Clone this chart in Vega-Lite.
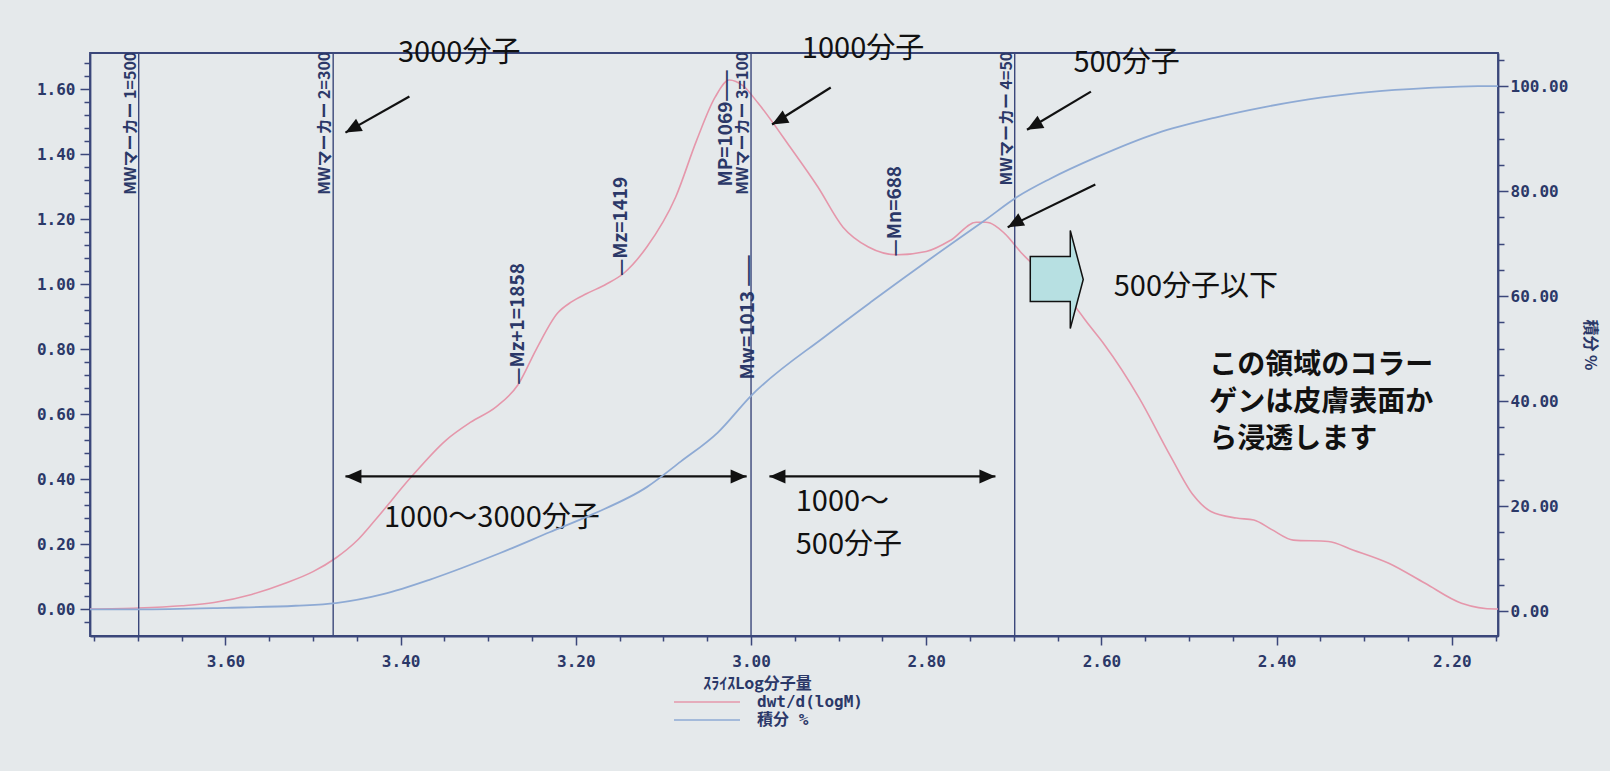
{
  "$schema": "https://vega.github.io/schema/vega-lite/v6.json",
  "width": 1408,
  "height": 583,
  "autosize": {"type": "none"},
  "padding": {"left": 90, "top": 53, "right": 112, "bottom": 135},
  "background": "#e5e9eb",
  "config": {
    "view": {"stroke": "#3b477a", "strokeWidth": 1.8},
    "axis": {
      "domainColor": "#3b477a", "domainWidth": 1.8,
      "tickColor": "#3b477a", "tickWidth": 1.5,
      "labelColor": "#2b3868", "labelFont": "DejaVu Sans Mono", "labelFontWeight": "bold", "labelFontSize": 16,
      "labelOverlap": false, "labelFlush": false,
      "grid": false,
      "titleColor": "#2b3868", "titleFont": "Noto Sans CJK JP", "titleFontWeight": "bold", "titleFontSize": 16
    }
  },
  "datasets": {
    "dwt": [
      {"logM": 3.7546, "val": 0.0}, {"logM": 3.70, "val": 0.003}, {"logM": 3.65, "val": 0.01}, {"logM": 3.613, "val": 0.02},
      {"logM": 3.57, "val": 0.045}, {"logM": 3.531, "val": 0.08}, {"logM": 3.50, "val": 0.115}, {"logM": 3.474, "val": 0.157},
      {"logM": 3.45, "val": 0.21}, {"logM": 3.429, "val": 0.274}, {"logM": 3.388, "val": 0.406}, {"logM": 3.348, "val": 0.52},
      {"logM": 3.32, "val": 0.575}, {"logM": 3.291, "val": 0.622}, {"logM": 3.266, "val": 0.69}, {"logM": 3.245, "val": 0.80},
      {"logM": 3.221, "val": 0.91}, {"logM": 3.205, "val": 0.945}, {"logM": 3.188, "val": 0.97}, {"logM": 3.165, "val": 1.0},
      {"logM": 3.145, "val": 1.034}, {"logM": 3.119, "val": 1.114}, {"logM": 3.086, "val": 1.268}, {"logM": 3.062, "val": 1.443},
      {"logM": 3.041, "val": 1.575}, {"logM": 3.025, "val": 1.628}, {"logM": 3.009, "val": 1.61}, {"logM": 2.992, "val": 1.557},
      {"logM": 2.955, "val": 1.42}, {"logM": 2.924, "val": 1.30}, {"logM": 2.895, "val": 1.175}, {"logM": 2.866, "val": 1.114},
      {"logM": 2.833, "val": 1.09}, {"logM": 2.800, "val": 1.10}, {"logM": 2.772, "val": 1.135}, {"logM": 2.743, "val": 1.19},
      {"logM": 2.732, "val": 1.19}, {"logM": 2.711, "val": 1.157}, {"logM": 2.691, "val": 1.095}, {"logM": 2.650, "val": 0.99},
      {"logM": 2.630, "val": 0.93}, {"logM": 2.613, "val": 0.87}, {"logM": 2.597, "val": 0.815}, {"logM": 2.557, "val": 0.65},
      {"logM": 2.521, "val": 0.47}, {"logM": 2.495, "val": 0.35}, {"logM": 2.475, "val": 0.30}, {"logM": 2.446, "val": 0.28},
      {"logM": 2.426, "val": 0.274}, {"logM": 2.406, "val": 0.245}, {"logM": 2.381, "val": 0.212}, {"logM": 2.341, "val": 0.208},
      {"logM": 2.313, "val": 0.182}, {"logM": 2.272, "val": 0.141}, {"logM": 2.231, "val": 0.08}, {"logM": 2.189, "val": 0.018},
      {"logM": 2.150, "val": 0.0}, {"logM": 2.1473, "val": 0.0}
    ],
    "cum": [
      {"logM": 3.7546, "pct": 0.3}, {"logM": 3.70, "pct": 0.3}, {"logM": 3.60, "pct": 0.6}, {"logM": 3.52, "pct": 1.0},
      {"logM": 3.474, "pct": 1.5}, {"logM": 3.42, "pct": 3.2}, {"logM": 3.368, "pct": 5.9}, {"logM": 3.33, "pct": 8.2},
      {"logM": 3.287, "pct": 11.0}, {"logM": 3.23, "pct": 15.0}, {"logM": 3.18, "pct": 18.5}, {"logM": 3.119, "pct": 23.6},
      {"logM": 3.08, "pct": 28.5}, {"logM": 3.038, "pct": 34.0}, {"logM": 3.0, "pct": 41.0}, {"logM": 2.914, "pct": 52.5},
      {"logM": 2.862, "pct": 59.0}, {"logM": 2.792, "pct": 67.5}, {"logM": 2.735, "pct": 74.2}, {"logM": 2.695, "pct": 79.0},
      {"logM": 2.659, "pct": 82.3}, {"logM": 2.605, "pct": 86.5}, {"logM": 2.537, "pct": 91.0}, {"logM": 2.47, "pct": 94.0},
      {"logM": 2.414, "pct": 96.0}, {"logM": 2.35, "pct": 97.8}, {"logM": 2.292, "pct": 98.9}, {"logM": 2.23, "pct": 99.6},
      {"logM": 2.17, "pct": 100.0}, {"logM": 2.1473, "pct": 100.0}
    ],
    "markers": [{"logM": 3.699}, {"logM": 3.477}, {"logM": 3.0}, {"logM": 2.699}],
    "topLabels": [
      {"logM": 3.699, "y": 1.715, "text": "MWマーカー 1=500"},
      {"logM": 3.477, "y": 1.715, "text": "MWマーカー 2=300"},
      {"logM": 3.0, "y": 1.715, "text": "MWマーカー 3=100"},
      {"logM": 2.699, "y": 1.715, "text": "MWマーカー 4=50"}
    ],
    "statLabels": [
      {"logM": 3.266, "y": 0.69, "text": "—Mz+1=1858"},
      {"logM": 3.149, "y": 1.025, "text": "—Mz=1419"},
      {"logM": 2.836, "y": 1.085, "text": "—Mn=688"},
      {"logM": 3.004, "y": 0.706, "text": "Mw=1013 ——"},
      {"logM": 3.029, "y": 1.30, "text": "MP=1069——"}
    ],
    "notes": [
      {"logM": 3.403, "y": 1.712, "text": "3000分子"},
      {"logM": 2.942, "y": 1.722, "text": "1000分子"},
      {"logM": 2.632, "y": 1.68, "text": "500分子"},
      {"logM": 2.586, "y": 0.99, "text": "500分子以下"},
      {"logM": 3.419, "y": 0.28, "text": "1000〜3000分子"},
      {"logM": 2.949, "y": 0.328, "text": "1000〜"},
      {"logM": 2.949, "y": 0.198, "text": "500分子"}
    ],
    "para": [
      {"logM": 2.477, "y": 0.748, "text": "この領域のコラー"},
      {"logM": 2.477, "y": 0.634, "text": "ゲンは皮膚表面か"},
      {"logM": 2.477, "y": 0.52, "text": "ら浸透します"}
    ],
    "diag": [
      {"logM": 3.390, "y": 1.577, "logM2": 3.463, "y2": 1.466},
      {"logM": 2.909, "y": 1.605, "logM2": 2.976, "y2": 1.491},
      {"logM": 2.612, "y": 1.592, "logM2": 2.685, "y2": 1.475},
      {"logM": 2.607, "y": 1.306, "logM2": 2.707, "y2": 1.175}
    ],
    "span": [
      {"logM": 3.463, "logM2": 3.005, "y": 0.408},
      {"logM": 2.979, "logM2": 2.721, "y": 0.408}
    ],
    "block": [{"logM": 2.651, "y": 1.014}]
  },
  "layer": [
    {
      "resolve": {"axis": {"y": "independent"}},
      "layer": [
        {
          "data": {"name": "dwt"},
          "mark": {"type": "line", "interpolate": "monotone", "strokeWidth": 1.6},
          "encoding": {
            "x": {
              "field": "logM", "type": "quantitative",
              "scale": {"domain": [2.1473, 3.7546], "reverse": true, "nice": false, "zero": false},
              "axis": {
                "title": "ｽﾗｲｽLog分子量", "titleX": 667,
                "values": [2.15, 2.2, 2.25, 2.3, 2.35, 2.4, 2.45, 2.5, 2.55, 2.6, 2.65, 2.7, 2.75, 2.8, 2.85, 2.9, 2.95, 3.0, 3.05, 3.1, 3.15, 3.2, 3.25, 3.3, 3.35, 3.4, 3.45, 3.5, 3.55, 3.6, 3.65, 3.7, 3.75],
                "labelExpr": "abs(datum.value*5 - round(datum.value*5)) < 0.001 ? format(datum.value, '.2f') : ''",
                "tickSize": {"condition": {"test": "abs(datum.value*5 - round(datum.value*5)) < 0.001", "value": 9}, "value": 5},
                "labelPadding": 8, "titlePadding": 6, "labelFlush": false, "labelOverlap": false
              }
            },
            "y": {
              "field": "val", "type": "quantitative",
              "scale": {"domain": [-0.083, 1.711], "nice": false, "zero": false},
              "axis": {
                "orient": "left", "title": null,
                "values": [0, 0.2, 0.4, 0.6, 0.8, 1, 1.2, 1.4, 1.6],
                "format": ".2f",
                "tickSize": 10,
                "labelPadding": 5, "labelFlush": false, "labelOverlap": false
              }
            },
            "color": {
              "datum": "dwt/d(logM)", "type": "nominal",
              "scale": {"domain": ["dwt/d(logM)", "積分 %"], "range": ["#e597ab", "#8eaad4"]},
              "legend": {
                "title": null, "orient": "none", "legendX": 607, "legendY": 639, "direction": "vertical",
                "symbolType": "M-3.67,0L3.67,0", "symbolSize": 324, "symbolStrokeWidth": 1.5,
                "labelFont": "DejaVu Sans Mono, Noto Sans CJK JP", "labelFontSize": 16, "labelFontWeight": "bold", "labelColor": "#2b3868",
                "labelOffset": 40, "rowPadding": 0, "padding": 0
              }
            }
          }
        },
        {
          "data": {"name": "dwt"},
          "mark": {"type": "line", "strokeOpacity": 0},
          "encoding": {
            "x": {"field": "logM", "type": "quantitative"},
            "y": {
              "field": "val", "type": "quantitative",
              "axis": {
                "orient": "left", "title": null, "labels": false, "domain": false,
                "values": [-0.04, 0.04, 0.08, 0.12, 0.16, 0.24, 0.28, 0.32, 0.36, 0.44, 0.48, 0.52, 0.56, 0.64, 0.68, 0.72, 0.76, 0.84, 0.88, 0.92, 0.96, 1.04, 1.08, 1.12, 1.16, 1.24, 1.28, 1.32, 1.36, 1.44, 1.48, 1.52, 1.56, 1.64, 1.68],
                "tickSize": 6
              }
            }
          }
        },
        {
          "data": {"name": "markers"},
          "mark": {"type": "rule", "stroke": "#3b477a", "strokeWidth": 1.4},
          "encoding": {
            "x": {"field": "logM", "type": "quantitative"}
          }
        },
        {
          "data": {"name": "topLabels"},
          "mark": {"type": "text", "angle": 270, "align": "right", "baseline": "bottom", "font": "Noto Sans CJK JP", "fontWeight": "bold", "fontSize": 16, "color": "#2b3868", "clip": true},
          "encoding": {
            "x": {"field": "logM", "type": "quantitative"},
            "y": {"field": "y", "type": "quantitative", "axis": null},
            "text": {"field": "text"}
          }
        },
        {
          "data": {"name": "statLabels"},
          "mark": {"type": "text", "angle": 270, "align": "left", "baseline": "middle", "font": "Noto Sans CJK JP", "fontWeight": "bold", "fontSize": 19, "color": "#2b3868"},
          "encoding": {
            "x": {"field": "logM", "type": "quantitative"},
            "y": {"field": "y", "type": "quantitative", "axis": null},
            "text": {"field": "text"}
          }
        },
        {
          "data": {"name": "notes"},
          "mark": {"type": "text", "align": "left", "baseline": "middle", "font": "Noto Sans CJK JP", "fontSize": 29, "color": "#111111"},
          "encoding": {
            "x": {"field": "logM", "type": "quantitative"},
            "y": {"field": "y", "type": "quantitative", "axis": null},
            "text": {"field": "text"}
          }
        },
        {
          "data": {"name": "para"},
          "mark": {"type": "text", "align": "left", "baseline": "middle", "font": "Noto Sans CJK JP", "fontWeight": "bold", "fontSize": 28, "color": "#111111"},
          "encoding": {
            "x": {"field": "logM", "type": "quantitative"},
            "y": {"field": "y", "type": "quantitative", "axis": null},
            "text": {"field": "text"}
          }
        },
        {
          "data": {"name": "diag"},
          "mark": {"type": "rule", "stroke": "#111111", "strokeWidth": 2.2},
          "encoding": {
            "x": {"field": "logM", "type": "quantitative"},
            "y": {"field": "y", "type": "quantitative", "axis": null},
            "x2": {"field": "logM2"},
            "y2": {"field": "y2"}
          }
        },
        {
          "data": {"name": "diag"},
          "mark": {"type": "point", "shape": "M0,0L-0.7,1.6L0.7,1.6Z", "size": 400, "angle": 241, "filled": true, "color": "#111111", "opacity": 1},
          "encoding": {
            "x": {"field": "logM2", "type": "quantitative"},
            "y": {"field": "y2", "type": "quantitative", "axis": null}
          }
        },
        {
          "data": {"name": "span"},
          "mark": {"type": "rule", "stroke": "#111111", "strokeWidth": 2.2},
          "encoding": {
            "x": {"field": "logM", "type": "quantitative"},
            "x2": {"field": "logM2"},
            "y": {"field": "y", "type": "quantitative", "axis": null}
          }
        },
        {
          "data": {"name": "span"},
          "mark": {"type": "point", "shape": "M0,0L-0.7,1.6L0.7,1.6Z", "size": 400, "angle": 270, "filled": true, "color": "#111111", "opacity": 1},
          "encoding": {
            "x": {"field": "logM", "type": "quantitative"},
            "y": {"field": "y", "type": "quantitative", "axis": null}
          }
        },
        {
          "data": {"name": "span"},
          "mark": {"type": "point", "shape": "M0,0L-0.7,1.6L0.7,1.6Z", "size": 400, "angle": 90, "filled": true, "color": "#111111", "opacity": 1},
          "encoding": {
            "x": {"field": "logM2", "type": "quantitative"},
            "y": {"field": "y", "type": "quantitative", "axis": null}
          }
        },
        {
          "data": {"name": "block"},
          "mark": {"type": "point", "shape": "M-0.535,-0.465L0.273,-0.465L0.273,-0.99L0.535,0L0.273,0.99L0.273,0.444L-0.535,0.444Z", "size": 9801, "filled": true, "fill": "#b7e0e2", "stroke": "#111111", "strokeWidth": 1.5, "opacity": 1},
          "encoding": {
            "x": {"field": "logM", "type": "quantitative"},
            "y": {"field": "y", "type": "quantitative", "axis": null}
          }
        }
      ]
    },
    {
      "layer": [
        {
          "data": {"name": "cum"},
          "mark": {"type": "line", "interpolate": "monotone", "strokeWidth": 1.8},
          "encoding": {
            "x": {"field": "logM", "type": "quantitative"},
            "y": {
              "field": "pct", "type": "quantitative",
              "scale": {"domain": [-4.76, 106.3], "nice": false, "zero": false},
              "axis": {
                "orient": "right", "title": "積分 %", "titlePadding": 14,
                "values": [0, 5, 10, 15, 20, 25, 30, 35, 40, 45, 50, 55, 60, 65, 70, 75, 80, 85, 90, 95, 100, 105],
                "labelExpr": "datum.value % 20 == 0 ? format(datum.value, '.2f') : ''",
                "tickSize": {"condition": {"test": "datum.value % 20 == 0", "value": 10}, "value": 6},
                "labelPadding": 2, "labelFlush": false, "labelOverlap": false
              }
            },
            "color": {"datum": "積分 %", "type": "nominal"}
          }
        }
      ]
    }
  ],
  "resolve": {"scale": {"y": "independent"}}
}
